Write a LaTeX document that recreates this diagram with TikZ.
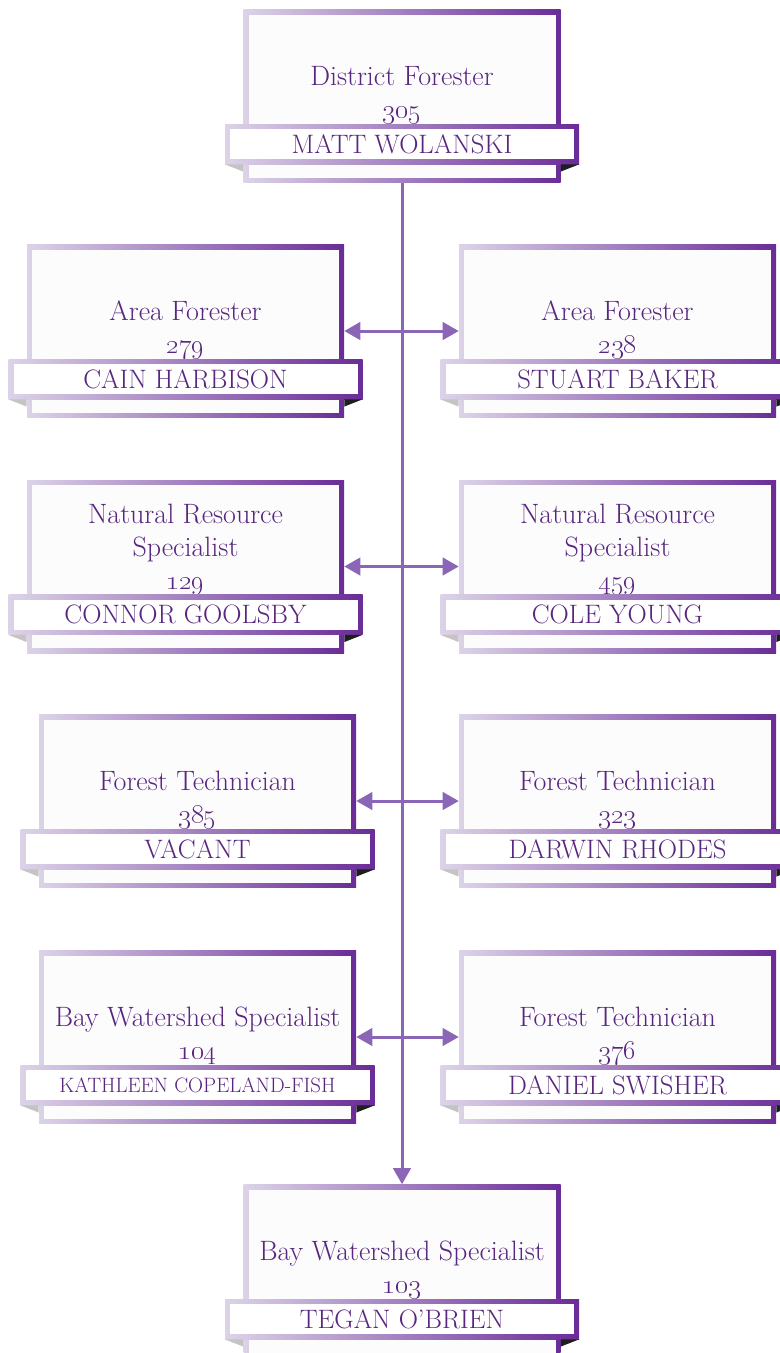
\documentclass[tikz,border=0pt]{standalone}
\usepackage{tikz}
\usetikzlibrary{positioning}
\usetikzlibrary{arrows.meta}

\definecolor{rimlight}{HTML}{DCD3E8}
\definecolor{rimdark}{HTML}{6A2C97}
\definecolor{paper}{HTML}{FCFCFD}
\definecolor{ink}{HTML}{58267F}
\definecolor{wire}{HTML}{8B66B6}
\definecolor{foldlight}{HTML}{C4C4C4}
\definecolor{folddark}{HTML}{1E1E1E}

% #1 name, #2 x, #3 y, #4 job title, #5 number, #6 person
\newcommand{\orgbox}[6]{%
  \node[post] (#1) at (#2,#3) {};
  \node[caption] (#1t) at ([yshift=-24.7pt]#1.center) {#4\\\oldstylenums{#5}\strut};
  \node[plate] (#1n) at ([yshift=-36pt]#1.center) {#6};
  \fill[foldlight] (#1n.south west) -- (#1n.south west -| #1.west) -- ([yshift=-5.5pt]#1n.south west -| #1.west) -- cycle;
  \fill[folddark] (#1n.south east) -- (#1n.south east -| #1.east) -- ([yshift=-5.5pt]#1n.south east -| #1.east) -- cycle;
}

\begin{document}
\begin{tikzpicture}[x=0.75pt,y=-0.75pt,
  post/.style={minimum width=237.75pt,minimum height=129.75pt,inner sep=0pt,
    left color=rimlight,right color=rimdark,
    path picture={\fill[paper] ([xshift=3.75pt,yshift=-3.75pt]path picture bounding box.north west)
      rectangle ([xshift=-3.75pt,yshift=3.75pt]path picture bounding box.south east);}},
  plate/.style={minimum width=265.5pt,minimum height=30pt,inner sep=0pt,
    left color=rimlight,right color=rimdark,text=ink,font=\fontsize{20}{24}\selectfont,
    path picture={\fill[white] ([xshift=3.75pt,yshift=-3.75pt]path picture bounding box.north west)
      rectangle ([xshift=-3.75pt,yshift=3.75pt]path picture bounding box.south east);}},
  caption/.style={anchor=south,inner sep=0pt,align=center,text=ink,
    font=\fontsize{21}{24.75}\selectfont},
  link/.style={draw=wire,line width=2.25pt,-{Triangle[length=12pt,width=13pt]}},
  both/.style={draw=wire,line width=2.25pt,{Triangle[length=12pt,width=13pt]}-{Triangle[length=12pt,width=13pt]}}]

\useasboundingbox (0,0) rectangle (780,1353);

\orgbox{matt}{402}{96}{District Forester}{305}{MATT WOLANSKI}
\orgbox{cain}{185.5}{331}{Area Forester}{279}{CAIN HARBISON}
\orgbox{stuart}{617.5}{331}{Area Forester}{238}{STUART BAKER}
\orgbox{connor}{185.5}{566.5}{Natural Resource\\Specialist}{129}{CONNOR GOOLSBY}
\orgbox{cole}{617.5}{566.5}{Natural Resource\\Specialist}{459}{COLE YOUNG}
\orgbox{vacant}{197.5}{801}{Forest Technician}{385}{VACANT}
\orgbox{darwin}{617.5}{801}{Forest Technician}{323}{DARWIN RHODES}
\orgbox{kathleen}{197.5}{1037}{Bay Watershed Specialist}{104}{\fontsize{15.6}{18}\selectfont KATHLEEN COPELAND-FISH}
\orgbox{daniel}{617.5}{1037}{Forest Technician}{376}{DANIEL SWISHER}
\orgbox{tegan}{402}{1271}{Bay Watershed Specialist}{103}{TEGAN O'BRIEN}

\path (matt)     edge [link] (tegan)
      (cain)     edge [both] (stuart)
      (connor)   edge [both] (cole)
      (vacant)   edge [both] (darwin)
      (kathleen) edge [both] (daniel);

\end{tikzpicture}
\end{document}
